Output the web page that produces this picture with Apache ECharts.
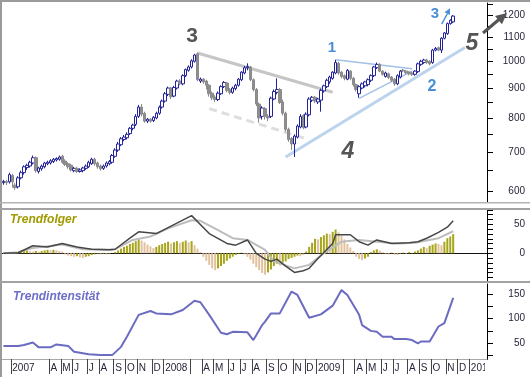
<!DOCTYPE html>
<html>
<head>
<meta charset="utf-8">
<script src="https://cdn.jsdelivr.net/npm/echarts@6/dist/echarts.min.js"></script>
<style>
html, body { margin: 0; padding: 0; background: #fff; }
#chart { width: 530px; height: 377px; }
</style>
</head>
<body>
<div id="chart"></div>
<script>
// weekly bars, one per Friday from 2006-12-15
const weekCount = 165;
const weeks = [];
for (let i = 0; i < weekCount; i++) {
    const d = new Date(Date.UTC(2006, 11, 15) + i * 7 * 864e5);
    weeks.push(d.toISOString().slice(0, 10));
}

// [open, close, low, high]
const candles = [
    [620,623,615,627],[623,620,614,627],[622,640,618,645],[638,622,608,642],[614,608,603,620],
    [610,632,606,636],[632,645,628,650],[645,660,640,664],[658,664,652,668],[662,672,658,676],
    [670,684,666,690],[684,650,645,688],[648,657,643,660],[655,662,650,666],[660,670,656,673],
    [668,672,664,676],[670,676,666,680],[674,680,670,683],[678,682,674,685],[680,686,676,690],
    [688,672,668,692],[675,666,662,680],[668,660,655,672],[664,652,648,668],[650,656,646,660],
    [656,648,644,660],[648,652,645,656],[650,657,646,660],[656,662,652,666],[660,672,657,676],
    [668,680,665,684],[680,668,663,684],[670,660,655,674],[662,655,650,666],[656,662,652,666],
    [662,670,658,674],[668,674,664,678],[672,690,668,694],[688,705,684,710],[705,722,700,728],
    [720,737,716,742],[735,742,730,748],[740,750,735,756],[752,768,748,772],[768,778,762,782],
    [780,805,775,812],[805,835,800,842],[835,812,805,845],[815,790,785,820],[790,796,784,800],
    [796,790,785,800],[792,802,787,806],[800,815,796,820],[815,835,810,840],[835,855,830,860],
    [855,880,850,886],[878,900,872,905],[900,870,862,904],[872,902,868,908],[900,925,895,930],
    [925,915,910,932],[915,945,910,950],[945,968,940,972],[965,978,960,984],[978,1002,972,1008],
    [1000,1025,995,1030],[1030,930,925,1035],[925,932,918,938],[932,922,915,936],[925,910,895,930],
    [910,880,870,914],[882,866,858,888],[868,860,852,875],[860,882,855,888],[880,905,876,910],
    [905,920,900,925],[918,892,885,922],[894,885,878,900],[885,900,880,905],[898,910,892,915],
    [910,932,905,936],[930,958,925,962],[955,975,950,982],[975,980,965,992],[978,930,925,982],
    [930,895,888,935],[895,845,838,900],[845,800,785,850],[805,832,795,838],[830,805,795,835],
    [805,800,790,812],[805,865,800,870],[862,888,858,895],[885,895,878,935],[895,850,845,900],
    [852,815,808,860],[815,765,758,820],[765,735,728,770],[738,722,705,742],[722,745,686,750],
    [742,775,738,780],[772,805,768,812],[808,770,765,812],[772,812,768,818],[810,862,805,868],
    [858,868,852,872],[868,855,848,872],[852,862,845,866],[858,892,820,898],[890,908,884,912],
    [905,928,900,934],[922,940,915,945],[935,958,930,962],[955,995,950,1006],[992,955,948,998],
    [958,942,935,962],[945,935,928,950],[932,965,928,970],[962,935,928,966],[935,912,905,940],
    [912,895,888,916],[880,905,866,910],[900,915,895,920],[908,922,902,926],[912,930,906,935],
    [928,945,922,950],[945,978,940,982],[975,988,970,995],[988,962,958,992],[962,950,945,966],
    [942,955,938,960],[952,938,932,956],[940,928,922,944],[932,915,908,936],[915,945,910,950],
    [940,962,935,966],[966,963,958,970],[962,956,950,966],[958,952,946,962],[955,950,944,960],
    [950,962,945,966],[960,990,955,995],[988,1000,982,1006],[995,1005,990,1010],[1005,995,990,1010],
    [1000,990,985,1004],[995,1045,990,1050],[1045,1052,1040,1058],[1055,1045,1040,1060],[1045,1095,1033,1100],
    [1095,1118,1090,1122],[1115,1160,1110,1165],[1160,1175,1155,1180],[1168,1195,1162,1200]
];

// trend-follower panel
const fastLine = [[0,0],[5,1],[10,13],[15,11],[20,17],[25,11],[30,7],[36,6],[38,7],[43,26],[46,37],
    [52,34],[59,52],[64,65],[70,34],[76,17],[79,14],[83,23],[86,0],[89,-10],[91,-14],[93,-10],[96,-22],
    [99,-33],[102,-30],[104,-26],[107,-9],[112,17],[113,32],[118,32],[121,20],[124,14],[127,23],
    [132,17],[138,18],[141,20],[144,26],[148,36],[151,45],[153,56]];
const slowLine = [[0,0],[5,2],[10,9],[20,15],[27,7],[36,6],[38,7],[44,23],[50,29],[56,43],[64,57],
    [67,56],[73,40],[78,26],[83,23],[89,6],[92,-14],[99,-26],[104,-20],[109,0],[115,20],[121,23],
    [127,20],[134,17],[140,18],[148,26],[153,38]];
const histogram = [
    0,1,1,2,1, 2,3,4,5,4,3, 4,3,4,5,6,5,6,5,4,3, -2,-4,-5,-6,-5,-7,-8,-6,-5,-3,
    -2,-1,-2,-1,-2,-1,0,2, 5,8,11,13,16,18,21,24,22,19,15,12, 9,11,14,16,
    18,20,17,19,21,18,20,22,19,21, 14,8,2, -6,-13,-20,-26,-29,-26,-22,-18,
    -13,-9,-6,-3,-1, 1,-2,-6,-11,
    -18,-24,-29,-34,-37,-33,-28,-22,-18,-21,-16,-14,-10,-8,-6,-4,-5,-2,
    3,11,18,25,24,28,31,34,33,37,41, 36,30,24,16,10,4, -6,-10,-12,-9,-6,
    2,5,7,5, 2,-1,-2,1,-2,-3,-1,1,-1,2,1,
    3,5,8,11,9,13,15,17,16,14,20,26,29,33
];

// trend-intensity panel
const intensity = [[0,44],[5,44],[7,46],[10,51],[12,41],[16,41],[18,47],[22,44],[24,32],[29,27],
    [33,25],[37,25],[40,42],[42,63],[46,108],[50,116],[52,111],[57,109],[61,118],[65,137],[67,134],
    [70,108],[74,71],[76,68],[78,73],[83,72],[85,56],[86,66],[88,87],[89,94],[91,111],[94,111],
    [98,156],[100,149],[104,102],[108,109],[112,127],[115,159],[117,149],[121,108],[122,87],[125,75],
    [127,73],[129,63],[132,63],[133,58],[137,58],[139,56],[141,49],[142,53],[145,53],[148,84],
    [150,91],[153,143]];

// drawn trend lines [week, price]
const topLine = [[66,1033],[112,885]];
const lowerDash = [[70,830],[103,737]];
const supportLine = [[96,686],[157,1056]];
const triUpper = [[113,1006],[139,971]];
const triLower = [[121,864],[139,962]];

const priceLabels = [600,700,800,900,1000,1100,1200];
const priceTicks = [600,650,700,750,800,850,900,950,1000,1050,1100,1150,1200,1250];
const trendLabels = [0,50];
const intensityLabels = [50,100,150];
const intensityTicks = [25,50,75,100,125,150];
const monthLetters = ['J','F','M','A','M','J','J','A','S','O','N','D'];

const font = 'Liberation Sans, Arial, sans-serif';
const labelColor = '#26263a';

function monthStart(i) {
    return i > 0 && weeks[i].slice(5, 7) !== weeks[i - 1].slice(5, 7);
}
function showLabel(i) {
    const m = +weeks[i].slice(5, 7) - 1;
    return monthStart(i) && m !== 1 && m !== 2;
}
function showTick(i) {
    const m = +weeks[i].slice(5, 7) - 1;
    const y = +weeks[i].slice(0, 4);
    return monthStart(i) && m !== 1 && !(m === 2 && y === 2007);
}

const histUp = '#a6a51c';
const histDown = '#e2c29e';

function trend(pts, color, width, type) {
    return {
        type: 'line', xAxisIndex: 0, yAxisIndex: 0, silent: true, z: 1,
        symbol: 'none',
        data: pts.map(p => [p[0], Math.log(p[1])]),
        lineStyle: { color: color, width: width, type: type || 'solid' }
    };
}

function rightAxis(idx, min, max, labels, ticks, fmt) {
    return {
        type: 'value', gridIndex: idx, position: 'right', min: min, max: max,
        splitLine: { show: false },
        axisLine: { show: true, lineStyle: { color: '#000', width: 1 } },
        axisTick: { show: true, length: 6, customValues: ticks, lineStyle: { color: '#000' } },
        axisLabel: {
            customValues: labels, align: 'right', margin: 38,
            color: labelColor, fontSize: 10, fontFamily: font,
            formatter: fmt
        }
    };
}

const chart = echarts.init(document.getElementById('chart'));

const grayBar = (y, h, c) => ({ type: 'rect', z: 50, shape: { x: 0, y: y, width: 530, height: h }, style: { fill: c } });
const txt = (x, y, s, size, color, style, align) => ({
    type: 'text', z: 60, x: x, y: y,
    style: {
        text: s, fill: color, fontFamily: font, fontSize: size,
        fontWeight: 'bold', fontStyle: style || 'normal',
        align: align || 'center', verticalAlign: 'middle'
    }
});

chart.setOption({
    animation: false,
    grid: [
        { left: 2, right: 43, top: 3, height: 199 },
        { left: 2, right: 43, top: 209, height: 72 },
        { left: 2, right: 43, top: 284, height: 75 }
    ],
    xAxis: [
        { type: 'category', gridIndex: 0, data: weeks, show: false },
        {
            type: 'category', gridIndex: 1, data: weeks,
            axisLine: { show: true, onZero: true, lineStyle: { color: '#111', width: 1 } },
            axisTick: { show: false }, axisLabel: { show: false }
        },
        {
            type: 'category', gridIndex: 2, data: weeks,
            axisLine: { show: true, lineStyle: { color: '#aaa', width: 1 } },
            axisTick: { show: true, length: 15, interval: (i) => showTick(i), lineStyle: { color: '#444' } },
            axisLabel: {
                interval: (i) => showLabel(i), align: 'left', margin: 4,
                color: labelColor, fontSize: 10, fontFamily: font,
                formatter: (v) => {
                    const m = +v.slice(5, 7) - 1;
                    return m === 0 ? v.slice(0, 4) : monthLetters[m];
                }
            }
        }
    ],
    yAxis: [
        rightAxis(0, Math.log(574.6), Math.log(1258), priceLabels.map(Math.log), priceTicks.map(Math.log),
            (v) => String(Math.round(Math.exp(v)))),
        rightAxis(1, -47.8, 76.4, trendLabels, Array.from({ length: 15 }, (_, k) => (k - 5) * 50 / 6),
            (v) => String(Math.round(v))),
        rightAxis(2, 17, 171.6, intensityLabels, intensityTicks, (v) => String(Math.round(v)))
    ],
    series: [
        trend(topLine, '#c6c6c6', 3),
        trend(lowerDash, '#dedede', 3, [8, 5]),
        trend(supportLine, '#bcd3ee', 3),
        trend(triUpper, '#a3c1e6', 1.5),
        trend(triLower, '#a3c1e6', 1.5),
        {
            type: 'candlestick', xAxisIndex: 0, yAxisIndex: 0, z: 3,
            barWidth: 3,
            data: candles.map(r => r.map(Math.log)),
            itemStyle: {
                color: '#ffffff', color0: '#8e8e8e',
                borderColor: '#23239a', borderColor0: '#8a8a8a', borderWidth: 1
            }
        },
        {
            type: 'bar', xAxisIndex: 1, yAxisIndex: 1, barWidth: 2,
            data: histogram.map((v, i) => ({
                value: v,
                itemStyle: { color: i > 0 && v < histogram[i - 1] ? histDown : histUp }
            }))
        },
        {
            type: 'line', xAxisIndex: 1, yAxisIndex: 1, symbol: 'none', z: 3,
            data: slowLine, lineStyle: { color: '#bdbdbd', width: 2 }
        },
        {
            type: 'line', xAxisIndex: 1, yAxisIndex: 1, symbol: 'none', z: 4,
            data: fastLine, lineStyle: { color: '#474747', width: 1.5 }
        },
        {
            type: 'line', xAxisIndex: 2, yAxisIndex: 2, symbol: 'none',
            data: intensity, lineStyle: { color: '#6b6bc2', width: 2 }
        }
    ],
    graphic: [
        grayBar(0, 2, '#9a9a9a'),
        { type: 'rect', z: 50, shape: { x: 0, y: 0, width: 2, height: 377 }, style: { fill: '#9a9a9a' } },
        grayBar(202, 1.5, '#b4b4b4'),
        grayBar(208, 2, '#a2a2a2'),
        grayBar(281, 2, '#a2a2a2'),
        { type: 'rect', z: 50, shape: { x: 485, y: 360, width: 45, height: 17 }, style: { fill: '#fff' } },
        // arrow 5
        { type: 'line', z: 60, shape: { x1: 483, y1: 33, x2: 499, y2: 19.5 }, style: { stroke: '#555', lineWidth: 3 } },
        { type: 'polygon', z: 60, shape: { points: [[507, 13], [502, 24.3], [495, 15.9]] }, style: { fill: '#555' } },
        // small blue arrow
        { type: 'line', z: 60, shape: { x1: 441.7, y1: 24, x2: 447.5, y2: 13.5 }, style: { stroke: '#4a8fd6', lineWidth: 1.5 } },
        { type: 'polygon', z: 60, shape: { points: [[450, 8.3], [449.9, 15], [444.5, 12.2]] }, style: { fill: '#4a8fd6' } },
        txt(192, 36, '3', 21, '#555'),
        txt(472, 44, '5', 23, '#555', 'italic'),
        txt(348, 152, '4', 23, '#555', 'italic'),
        txt(332, 48, '1', 15, '#4a8fd6'),
        txt(432, 87, '2', 16, '#4a8fd6'),
        txt(435, 14, '3', 15, '#4a8fd6'),
        txt(10, 220, 'Trendfolger', 12, '#a09a00', 'italic', 'left'),
        txt(13, 297, 'Trendintensität', 12, '#6e6ec8', 'italic', 'left')
    ]
});
</script>
</body>
</html>
